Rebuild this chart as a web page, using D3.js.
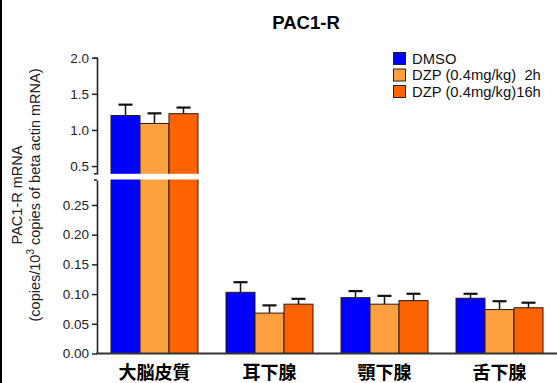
<!DOCTYPE html>
<html><head><meta charset="utf-8">
<script src="https://cdn.jsdelivr.net/npm/d3@7"></script>
<style>body{margin:0;background:#fff}svg{display:block}</style>
</head><body>
<svg id="c" width="557" height="383"></svg>
<script>
const categories = ["大脳皮質", "耳下腺", "顎下腺", "舌下腺"];
const seriesNames = ["DMSO", "DZP (0.4mg/kg)  2h", "DZP (0.4mg/kg)16h"];
const dmso = [1.20, 0.103, 0.094, 0.093];
const dzp2h = [1.09, 0.068, 0.083, 0.074];
const dzp16h = [1.225, 0.083, 0.089, 0.077];
const dmsoErr = [0.15, 0.017, 0.011, 0.0075];
const dzp2hErr = [0.14, 0.013, 0.014, 0.014];
const dzp16hErr = [0.085, 0.009, 0.0115, 0.0085];
const upperTicks = [0.5, 1.0, 1.5, 2.0];
const lowerTicks = [0.00, 0.05, 0.10, 0.15, 0.20, 0.25];
const breakLow = 0.292, breakHigh = 0.4, upperMax = 2.0;
const colors = ["#0000FF", "#FFA040", "#FF6200"];

const values = [dmso, dzp2h, dzp16h];
const errs = [dmsoErr, dzp2hErr, dzp16hErr];
const svg = d3.select("#c");
const axisX = 97;

const x0 = d3.scaleBand().domain(categories).range([axisX, 557]).paddingInner(0.2435).paddingOuter(0.1217);
const x1 = d3.scaleBand().domain(seriesNames).range([0, x0.bandwidth()]);
const yLow = d3.scaleLinear().domain([0, breakLow]).range([353.5, 180]);
const yHigh = d3.scaleLinear().domain([breakHigh, upperMax]).range([173.3, 57.7]);
const yv = v => v > breakLow ? yHigh(Math.max(v, breakHigh)) : yLow(v);

// left frame line
svg.append("line").attr("x1", 1).attr("x2", 1).attr("y1", 0).attr("y2", 383)
  .attr("stroke", "#000").attr("stroke-width", 2);

// title
svg.append("text").attr("x", 306).attr("y", 29).attr("text-anchor", "middle")
  .attr("font-family", "Liberation Sans, Arial, sans-serif").attr("font-weight", "bold")
  .attr("font-size", 18.5).text("PAC1-R");

// bars
const data = [];
categories.forEach((c, i) => seriesNames.forEach((s, j) => data.push({c, s, j, v: values[j][i], e: errs[j][i]})));

const g = svg.append("g");
// error bars (behind bars)
data.forEach(d => {
  const cx = x0(d.c) + x1(d.s) + x1.bandwidth() / 2;
  g.append("line").attr("x1", cx).attr("x2", cx).attr("y1", yv(d.v)).attr("y2", yv(d.v + d.e))
    .attr("stroke", "#111").attr("stroke-width", 1.5);
  g.append("line").attr("x1", cx - 7).attr("x2", cx + 7).attr("y1", yv(d.v + d.e)).attr("y2", yv(d.v + d.e))
    .attr("stroke", "#111").attr("stroke-width", 2.2);
});
g.selectAll("rect.bar").data(data).join("rect").attr("class", "bar")
  .attr("x", d => x0(d.c) + x1(d.s))
  .attr("width", x1.bandwidth())
  .attr("y", d => yv(d.v))
  .attr("height", d => yLow(0) - yv(d.v))
  .attr("fill", d => colors[d.j])
  .attr("stroke", "#2a1a10").attr("stroke-width", 1);

// break gap over bars that cross it
categories.forEach((c, i) => {
  if (values.some(s => s[i] > breakLow)) {
    svg.append("rect").attr("x", x0(c) - 1).attr("width", x0.bandwidth() + 2)
      .attr("y", yHigh(breakHigh) + 0.5).attr("height", yLow(breakLow) - yHigh(breakHigh) - 1)
      .attr("fill", "#fff");
  }
});

// axes
const fontTick = "Liberation Sans, Arial, sans-serif";
const axHigh = svg.append("g").attr("transform", `translate(${axisX},0)`)
  .call(d3.axisLeft(yHigh).tickValues(upperTicks).tickFormat(d3.format(".1f")).tickSize(5).tickSizeOuter(3));
const axLow = svg.append("g").attr("transform", `translate(${axisX},0)`)
  .call(d3.axisLeft(yLow).tickValues(lowerTicks).tickFormat(d3.format(".2f")).tickSize(5).tickSizeOuter(0));
[axHigh, axLow].forEach(a => {
  a.select(".domain").attr("stroke", "#222").attr("stroke-width", 1.6);
  a.selectAll(".tick line").attr("stroke", "#222").attr("stroke-width", 1.5);
  a.selectAll(".tick text").attr("font-family", fontTick).attr("font-size", 13.5).attr("fill", "#222").attr("x", -8);
});
// small end tick at top of lower segment
svg.append("line").attr("x1", axisX - 3).attr("x2", axisX).attr("y1", yLow(breakLow)).attr("y2", yLow(breakLow))
  .attr("stroke", "#222").attr("stroke-width", 1.5);

// x axis line
svg.append("line").attr("x1", axisX - 0.8).attr("x2", 557).attr("y1", yLow(0)).attr("y2", yLow(0))
  .attr("stroke", "#333").attr("stroke-width", 2);

// category labels
svg.selectAll("text.cat").data(categories).join("text").attr("class", "cat")
  .attr("x", d => x0(d) + x0.bandwidth() / 2).attr("y", 378.5)
  .attr("text-anchor", "middle").attr("font-family", "Noto Sans CJK JP").attr("font-weight", "bold")
  .attr("font-size", 18).text(d => d);

// y axis title
const yt = svg.append("text").attr("transform", "translate(22,195) rotate(-90)")
  .attr("text-anchor", "middle").attr("font-family", fontTick).attr("font-size", 14.5).attr("fill", "#222");
yt.append("tspan").attr("x", 0).attr("y", 0).text("PAC1-R mRNA");
const t2 = yt.append("tspan").attr("x", 0).attr("y", 0).attr("dy", 18);
t2.append("tspan").text("(copies/10");
t2.append("tspan").attr("font-size", 10).attr("dy", -6).text("3");
t2.append("tspan").attr("dy", 6).text(" copies of beta actin mRNA)");

// legend
const lg = svg.append("g").attr("transform", "translate(393,52)");
seriesNames.forEach((s, j) => {
  lg.append("rect").attr("x", 0.5).attr("y", j * 16.5 + 0.5).attr("width", 12).attr("height", 12)
    .attr("fill", colors[j]).attr("stroke", "#222").attr("stroke-width", 1);
  lg.append("text").attr("x", 19).attr("y", j * 16.5 + 11.5).attr("font-family", fontTick)
    .attr("font-size", 14.8).attr("fill", "#111").attr("xml:space", "preserve").style("white-space", "pre").text(s);
});
</script>
</body></html>
